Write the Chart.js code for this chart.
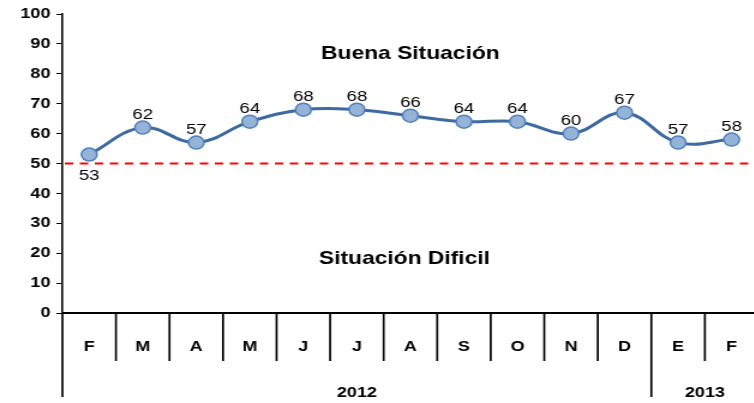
<!DOCTYPE html>
<html>
<head>
<meta charset="utf-8">
<script src="https://cdn.jsdelivr.net/npm/chart.js@4.4.1/dist/chart.umd.min.js"></script>
<style>
    html, body { margin: 0; padding: 0; background: #fff; overflow: hidden; width: 754px; height: 403px; }
    /* the original picture is stretched sideways, so the chart is too */
    #wrap { position: absolute; left: 0; top: 0; width: 640px; height: 403px; transform: scaleX(1.2); transform-origin: 0 0; }
</style>
</head>
<body>
<div id="wrap"><canvas id="chart"></canvas></div>
<script>
/* DATA */

const months = ['F', 'M', 'A', 'M', 'J', 'J', 'A', 'S', 'O', 'N', 'D', 'E', 'F']
const values = [53, 62, 57, 64, 68, 68, 66, 64, 64, 60, 67, 57, 58]
const yearLabels = ['2012', '2013']
const yearStarts = [0, 11]
const yMin = 0
const yMax = 100
const yStep = 10
const threshold = 50
const zoneLabels = ['Buena Situación', 'Situación Dificil']
const zoneValues = [86.6, 18.2]

/* DRAWING */

const FONT = '"Liberation Sans", Arial, sans-serif'
Chart.defaults.font.family = FONT
Chart.defaults.color = '#000'

const extras = {
    id: 'extras',
    beforeDatasetsDraw(chart) {
        const { ctx, chartArea, scales } = chart
        const y = scales.y.getPixelForValue(threshold)
        ctx.save()
        ctx.strokeStyle = '#ff0000'
        ctx.lineWidth = 2
        ctx.setLineDash([7, 5.5])
        ctx.beginPath()
        ctx.moveTo(chartArea.left + 2, y)
        ctx.lineTo(chartArea.right, y)
        ctx.stroke()
        ctx.restore()
    },
    afterDraw(chart) {
        const { ctx, chartArea, scales } = chart
        const x = scales.x
        const bottom = chartArea.bottom
        const half = (x.getPixelForValue(1) - x.getPixelForValue(0)) / 2

        ctx.save()
        ctx.strokeStyle = '#000'
        ctx.lineWidth = 1.7

        // separators under the axis
        for (let i = 0; i <= months.length; i++) {
            const px = i === 0 ? chartArea.left : x.getPixelForValue(i) - half
            const long = yearStarts.includes(i) || i === months.length
            ctx.beginPath()
            ctx.moveTo(px, bottom)
            ctx.lineTo(px, long ? 397 : bottom + 48)
            ctx.stroke()
        }

        // year labels
        ctx.fillStyle = '#000'
        ctx.font = 'bold 15px ' + FONT
        ctx.textAlign = 'center'
        ctx.textBaseline = 'middle'
        yearLabels.forEach((label, k) => {
            const from = yearStarts[k]
            const to = k + 1 < yearStarts.length ? yearStarts[k + 1] - 1 : months.length - 1
            const cx = (x.getPixelForValue(from) + x.getPixelForValue(to)) / 2
            ctx.fillText(label, cx, 393)
        })

        // value labels
        ctx.font = '15.5px ' + FONT
        ctx.textBaseline = 'alphabetic'
        const pts = chart.getDatasetMeta(0).data
        pts.forEach((p, i) => {
            if (i === 0) {
                ctx.textBaseline = 'top'
                ctx.fillText(values[i], p.x, p.y + 13)
                ctx.textBaseline = 'alphabetic'
            } else {
                ctx.fillText(values[i], p.x, p.y - 9)
            }
        })

        // zone labels
        ctx.font = 'bold 19px ' + FONT
        ctx.textBaseline = 'middle'
        const cx = (chartArea.left + chartArea.right) / 2
        ctx.fillText(zoneLabels[0], cx, scales.y.getPixelForValue(zoneValues[0]))
        ctx.fillText(zoneLabels[1], cx - 5, scales.y.getPixelForValue(zoneValues[1]))
        ctx.restore()
    }
}

new Chart(document.getElementById('chart'), {
    type: 'line',
    data: {
        labels: months,
        datasets: [{
            data: values,
            borderColor: '#3d6a9f',
            borderWidth: 3,
            tension: 0.4,
            fill: false,
            pointRadius: 6.5,
            pointBackgroundColor: '#95b3d7',
            pointBorderColor: '#4f81bd',
            pointBorderWidth: 1.5
        }]
    },
    options: {
        responsive: true,
        maintainAspectRatio: false,
        animation: false,
        layout: { padding: { top: 14, right: 3, left: 0, bottom: 0 } },
        plugins: {
            legend: { display: false },
            tooltip: { enabled: false }
        },
        scales: {
            x: {
                offset: true,
                grid: { display: false },
                border: { display: true, color: '#000', width: 2 },
                ticks: {
                    font: { size: 15, weight: 'bold' },
                    color: '#000',
                    padding: 17,
                    autoSkip: false,
                    maxRotation: 0
                },
                afterFit: (s) => { s.height = 90 }
            },
            y: {
                min: yMin,
                max: yMax,
                grid: {
                    drawOnChartArea: false,
                    drawTicks: true,
                    tickLength: 5,
                    color: '#000',
                    lineWidth: 1
                },
                border: { display: true, color: '#000', width: 1.6 },
                ticks: {
                    stepSize: yStep,
                    font: { size: 15, weight: 'bold' },
                    color: '#000',
                    padding: 5
                },
                afterFit: (s) => {
                    s.width = 52
                    s.paddingTop = 0
                    s.paddingBottom = 0
                }
            }
        }
    },
    plugins: [extras]
})
</script>
</body>
</html>
